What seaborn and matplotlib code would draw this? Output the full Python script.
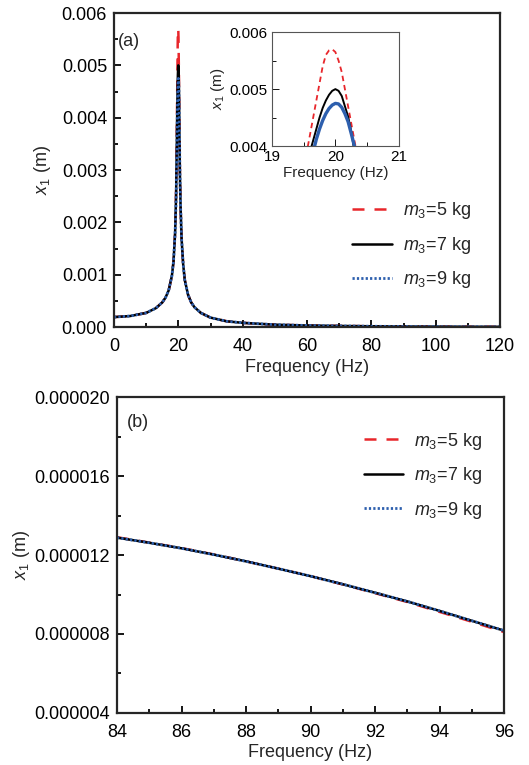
import matplotlib
matplotlib.use("Agg")
import matplotlib.pyplot as plt
import pandas as pd
import seaborn as sns
from matplotlib.ticker import MultipleLocator, FormatStrFormatter

# values
freq_a = [0, 5, 10, 13, 15, 16, 17, 18, 18.5, 19, 19.3,
          19.5, 19.55, 19.6, 19.65, 19.7, 19.75, 19.8, 19.85, 19.9, 19.95,
          20.0, 20.05, 20.1, 20.15, 20.2, 20.25, 20.3, 20.35, 20.4, 20.45,
          20.5, 20.7, 21, 21.5, 22, 23, 24, 25, 27, 30, 35, 40, 50, 60, 70,
          80, 90, 100, 110, 120]
tail_a = [0.0023, 0.0017, 0.0012, 0.00090, 0.00062, 0.00047, 0.00038,
          0.00027, 0.00018, 0.00011, 0.00008, 0.000045, 0.00003, 0.000021,
          0.000015, 0.000011, 0.0000075, 0.0000055, 0.000004]
x1_m5_a = [0.00019, 0.00021, 0.00027, 0.00036, 0.00047, 0.00056, 0.00070,
           0.00098, 0.00125, 0.0018, 0.0026,
           0.0036, 0.0039, 0.0042, 0.0045, 0.0048, 0.0051, 0.0054, 0.0056,
           0.00568, 0.0057, 0.00565, 0.0055, 0.0053, 0.0050, 0.0047, 0.0044,
           0.0041, 0.0038, 0.0035, 0.0032, 0.0029] + tail_a
x1_m7_a = [0.00019, 0.00021, 0.00027, 0.00036, 0.00047, 0.00056, 0.00070,
           0.00098, 0.00125, 0.0018, 0.0025,
           0.0034, 0.0036, 0.0039, 0.0041, 0.0043, 0.0045, 0.00467, 0.0048,
           0.0049, 0.00497, 0.0050, 0.00497, 0.00488, 0.0047, 0.00452,
           0.00426, 0.0039, 0.0036, 0.0034, 0.0031, 0.0029] + tail_a
x1_m9_a = [0.00019, 0.00021, 0.00027, 0.00036, 0.00047, 0.00056, 0.00070,
           0.00098, 0.00125, 0.0018, 0.0024,
           0.0032, 0.0034, 0.0037, 0.0039, 0.00412, 0.0043, 0.00445, 0.00457,
           0.00466, 0.00472, 0.00475, 0.00474, 0.00468, 0.00457, 0.00443,
           0.00422, 0.0040, 0.0037, 0.0035, 0.0032, 0.0029] + tail_a

freq_b = [84, 85, 86, 87, 88, 89, 90, 91, 92, 93, 94, 95, 96]
x1_m5_b = [12.9e-6, 12.63e-6, 12.35e-6, 12.03e-6, 11.68e-6, 11.31e-6,
           10.93e-6, 10.51e-6, 10.07e-6, 9.62e-6, 9.12e-6, 8.62e-6, 8.1e-6]
x1_m7_b = [12.88e-6, 12.62e-6, 12.34e-6, 12.02e-6, 11.68e-6, 11.31e-6,
           10.93e-6, 10.52e-6, 10.09e-6, 9.65e-6, 9.17e-6, 8.67e-6, 8.17e-6]
x1_m9_b = [12.88e-6, 12.62e-6, 12.34e-6, 12.02e-6, 11.68e-6, 11.31e-6,
           10.93e-6, 10.52e-6, 10.09e-6, 9.65e-6, 9.17e-6, 8.67e-6, 8.17e-6]

labels = [r"$m_3$=5 kg", r"$m_3$=7 kg", r"$m_3$=9 kg"]
colors = ["#e8262b", "black", "#2d5fae"]
styles = [(0, (4.8, 4.0)), "-", (0, (0.8, 0.78))]
widths = [1.8, 1.8, 2.0]
inset_styles = [(0, (3, 2.2)), "-", "-"]
inset_widths = [1.3, 1.4, 2.4]

sns.set_style("ticks")
plt.rcParams["font.family"] = ["Liberation Sans", "DejaVu Sans"]
plt.rcParams["mathtext.fontset"] = "custom"
plt.rcParams["mathtext.rm"] = "Liberation Sans"
plt.rcParams["mathtext.it"] = "Liberation Sans:italic"
plt.rcParams["xtick.direction"] = "in"
plt.rcParams["ytick.direction"] = "in"

fig = plt.figure(figsize=(5.29, 7.65), dpi=100)
ax1 = fig.add_axes([0.2155, 0.5725, 0.7297, 0.4105])
ax2 = fig.add_axes([0.2212, 0.068, 0.7316, 0.413])
axin = fig.add_axes([0.514, 0.809, 0.240, 0.149])


def draw(ax, x, ys, lstyles, lwidths, legend=True):
    for y, lab, c, ls, lw in zip(ys, labels, colors, lstyles, lwidths):
        df = pd.DataFrame({"f": x, "x1": y})
        sns.lineplot(data=df, x="f", y="x1", ax=ax, color=c, linestyle=ls,
                     linewidth=lw, label=lab if legend else None,
                     legend=False)


def style_axes(ax, fs, lw):
    for s in ax.spines.values():
        s.set_linewidth(lw)
    ax.tick_params(which="both", top=False, right=False, labelsize=fs,
                   width=lw * 0.8, colors="black")
    ax.tick_params(axis="x", pad=8)
    ax.tick_params(axis="y", pad=5)
    ax.tick_params(which="major", length=5)
    ax.tick_params(which="minor", length=3)


# panel (a)
draw(ax1, freq_a, [x1_m5_a, x1_m7_a, x1_m9_a], styles, widths)
ax1.set_xlim(0, 120)
ax1.set_ylim(0, 0.006)
ax1.xaxis.set_major_locator(MultipleLocator(20))
ax1.xaxis.set_minor_locator(MultipleLocator(10))
ax1.yaxis.set_major_locator(MultipleLocator(0.001))
ax1.yaxis.set_minor_locator(MultipleLocator(0.0005))
ax1.yaxis.set_major_formatter(FormatStrFormatter("%.3f"))
ax1.set_xlabel("Frequency (Hz)", fontsize=13, labelpad=3)
ax1.set_ylabel(r"$x_1$ (m)", fontsize=13, labelpad=6)
style_axes(ax1, 13, 1.6)
ax1.text(0.01, 0.91, "(a)", transform=ax1.transAxes, fontsize=13,
         va="center")
ax1.legend(loc="upper left", bbox_to_anchor=(0.575, 0.455), frameon=False,
           fontsize=13, handlelength=2.2, labelspacing=0.75,
           handletextpad=0.6)

# inset
draw(axin, freq_a, [x1_m5_a, x1_m7_a, x1_m9_a], inset_styles, inset_widths,
     legend=False)
axin.set_xlim(19, 21)
axin.set_ylim(0.004, 0.006)
axin.xaxis.set_major_locator(MultipleLocator(1))
axin.xaxis.set_minor_locator(MultipleLocator(0.5))
axin.yaxis.set_major_locator(MultipleLocator(0.001))
axin.yaxis.set_minor_locator(MultipleLocator(0.0005))
axin.yaxis.set_major_formatter(FormatStrFormatter("%.3f"))
axin.set_xlabel("Frequency (Hz)", fontsize=11, labelpad=1)
axin.set_ylabel(r"$x_1$ (m)", fontsize=11, labelpad=2)
style_axes(axin, 11, 0.8)
axin.tick_params(axis="both", pad=3)
for s in axin.spines.values():
    s.set_color("#555555")

# panel (b)
draw(ax2, freq_b, [x1_m5_b, x1_m7_b, x1_m9_b], styles, widths)
ax2.set_xlim(84, 96)
ax2.set_ylim(4e-6, 20e-6)
ax2.xaxis.set_major_locator(MultipleLocator(2))
ax2.xaxis.set_minor_locator(MultipleLocator(1))
ax2.yaxis.set_major_locator(MultipleLocator(4e-6))
ax2.yaxis.set_minor_locator(MultipleLocator(2e-6))
ax2.yaxis.set_major_formatter(FormatStrFormatter("%.6f"))
ax2.set_xlabel("Frequency (Hz)", fontsize=13, labelpad=2)
ax2.set_ylabel(r"$x_1$ (m)", fontsize=13, labelpad=2)
style_axes(ax2, 13, 1.6)
ax2.text(0.025, 0.918, "(b)", transform=ax2.transAxes, fontsize=13,
         va="center")
ax2.legend(loc="upper left", bbox_to_anchor=(0.595, 0.945), frameon=False,
           fontsize=13, handlelength=2.2, labelspacing=0.75,
           handletextpad=0.6)

fig.savefig("out.png", dpi=100)
